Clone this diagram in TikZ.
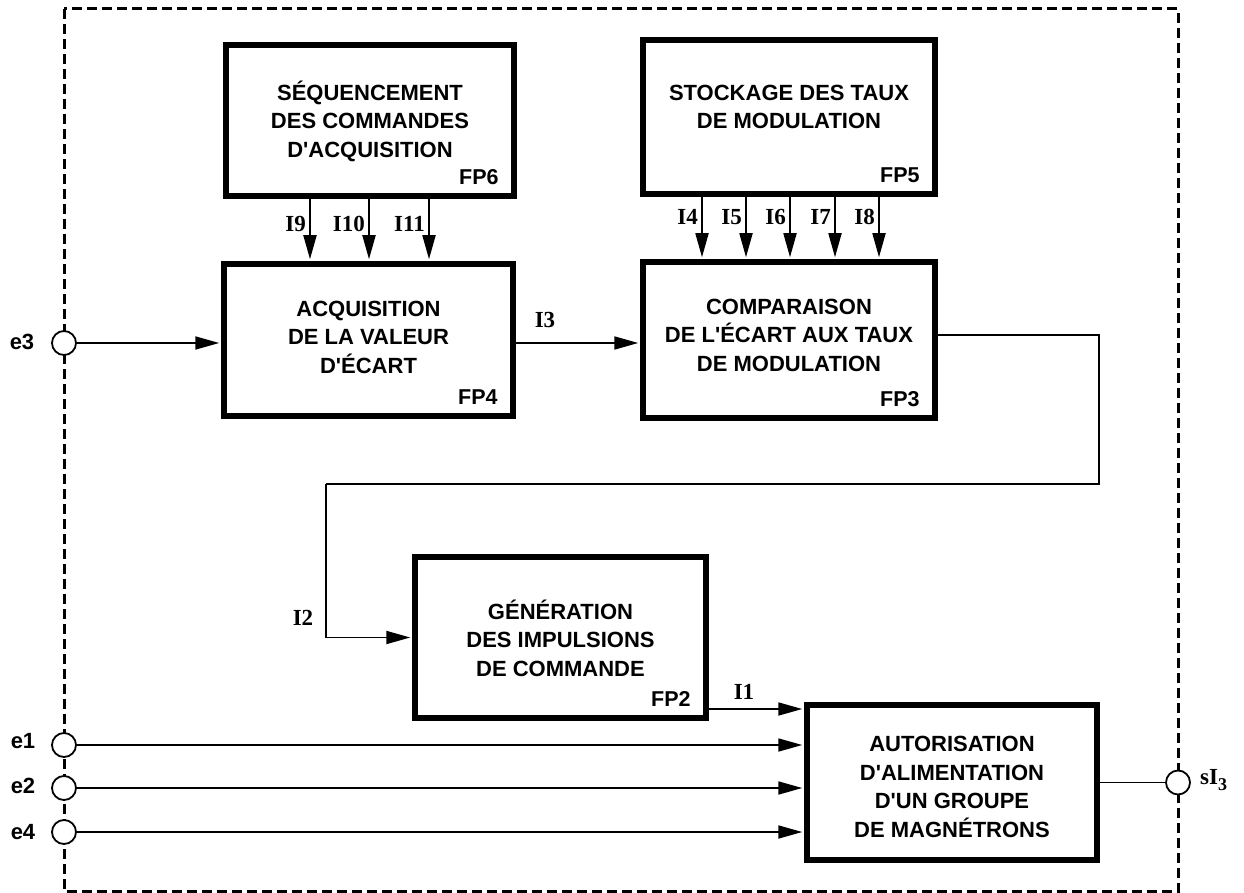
\documentclass[tikz,border=0pt]{standalone}
\usepackage{fontspec}
\setmainfont{Liberation Serif}
\setsansfont{Liberation Sans}
\usetikzlibrary{arrows.meta,calc}
\newcommand\ap{\textquotesingle}
\begin{document}
\begin{tikzpicture}[x=1pt,y=-1pt,
  box/.style={draw, line width=5.5pt, inner sep=0pt},
  txt/.style={font=\sffamily\bfseries\fontsize{22}{28.5}\selectfont, align=center, inner sep=0pt},
  fp/.style={font=\sffamily\bfseries\fontsize{21.5}{26}\selectfont, anchor=base east, inner sep=0pt},
  lbl/.style={font=\rmfamily\bfseries\fontsize{23}{26}\selectfont, inner sep=0pt},
  elbl/.style={font=\sffamily\bfseries\fontsize{22}{26}\selectfont, inner sep=0pt},
  conn/.style={line width=1.8pt},
  arr/.style={conn, -{Triangle[length=24pt,width=13pt]}, shorten >=2pt},
  port/.style={circle, draw, fill=white, line width=1.8pt, minimum size=24pt, inner sep=0pt},
  frame/.style={line width=3pt, dash pattern=on 10pt off 5pt}]
\useasboundingbox (0,0) rectangle (1244,893);

% dashed frame
\draw[frame] (64,9) rectangle (1178,891.5);

% boxes
\node[box, minimum width=288pt, minimum height=151pt] (fp6) at (370,120.5) {};
\node[box, minimum width=292pt, minimum height=154pt] (fp5) at (789,117) {};
\node[box, minimum width=289pt, minimum height=152pt] (fp4) at (368.5,340) {};
\node[box, minimum width=292pt, minimum height=156pt] (fp3) at (789,340) {};
\node[box, minimum width=291pt, minimum height=161pt] (fp2) at (560.5,637.5) {};
\node[box, minimum width=290pt, minimum height=155pt] (fp1) at (952,782.5) {};

% box texts
\node[txt] (t6) at (370,121) {SÉQUENCEMENT\\DES COMMANDES\\D\ap ACQUISITION};
\node[txt] (t5) at (789,107) {STOCKAGE DES TAUX\\DE MODULATION};
\node[txt] (t4) at (368.5,337) {ACQUISITION\\DE LA VALEUR\\D\ap ÉCART};
\node[txt] (t3) at (789,335) {COMPARAISON\\DE L\ap ÉCART AUX TAUX\\DE MODULATION};
\node[txt] (t2) at (560.5,638) {GÉNÉRATION\\DES IMPULSIONS\\DE COMMANDE};
\node[txt] (t1) at (952,787) {AUTORISATION\\D\ap ALIMENTATION\\D\ap UN GROUPE\\DE MAGNÉTRONS};

% FP labels
\node[fp] (l6) at ($(fp6.south east)+(-18,-14)$) {FP6};
\node[fp] (l5) at ($(fp5.south east)+(-18,-14)$) {FP5};
\node[fp] (l4) at ($(fp4.south east)+(-18,-14)$) {FP4};
\node[fp] (l3) at ($(fp3.south east)+(-18,-14)$) {FP3};
\node[fp] (l2) at ($(fp2.south east)+(-18,-14)$) {FP2};

% arrows FP6 -> FP4
\foreach \x/\n in {310/I9, 369/I10, 429/I11}{
  \coordinate (a\n) at (\x,0);
  \draw[arr] (fp6.south -| a\n) -- (fp4.north -| a\n);
  \node[lbl, anchor=east] (lb\n) at (\x-4,224) {\n};
}
% arrows FP5 -> FP3
\foreach \x/\n in {702/I4, 746/I5, 790/I6, 835/I7, 879/I8}{
  \coordinate (a\n) at (\x,0);
  \draw[arr] (fp5.south -| a\n) -- (fp3.north -| a\n);
  \node[lbl, anchor=east] (lb\n) at (\x-4,217) {\n};
}

% ports
\node[port] (e3) at (64,343) {};
\node[port] (e1) at (64,745) {};
\node[port] (e2) at (64,788) {};
\node[port] (e4) at (64,832) {};
\node[port] (s)  at (1178,782.5) {};

\node[elbl] (le3) at (22,342) {e3};
\node[elbl] (le1) at (23,741) {e1};
\node[elbl] (le2) at (23,786) {e2};
\node[elbl] (le4) at (23,832) {e4};
\node[lbl, anchor=west] (ls) at (1200,780) {sI\raisebox{-6pt}{\fontsize{18}{20}\selectfont 3}};

% connections
\draw[arr] (e3) -- (fp4.west |- e3);
\draw[arr] (fp4.east |- e3) -- (fp3.west |- e3);
\node[lbl] (lI3) at (545,320) {I3};

\coordinate (k1) at (1099,335);
\coordinate (k2) at (326,484);
\draw[conn] (fp3.east |- k1) -- (k1) |- (k2);
\draw[arr] (k2) |- (fp2.west);
\node[lbl] (lI2) at (303,618) {I2};

\coordinate (k3) at (0,709);
\draw[arr] (fp2.east |- k3) -- (fp1.west |- k3);
\node[lbl] (lI1) at (744,692) {I1};

\draw[arr] (e1) -- (fp1.west |- e1);
\draw[arr] (e2) -- (fp1.west |- e2);
\draw[arr] (e4) -- (fp1.west |- e4);
\draw[conn] (fp1.east) -- (s);
\end{tikzpicture}
\end{document}
